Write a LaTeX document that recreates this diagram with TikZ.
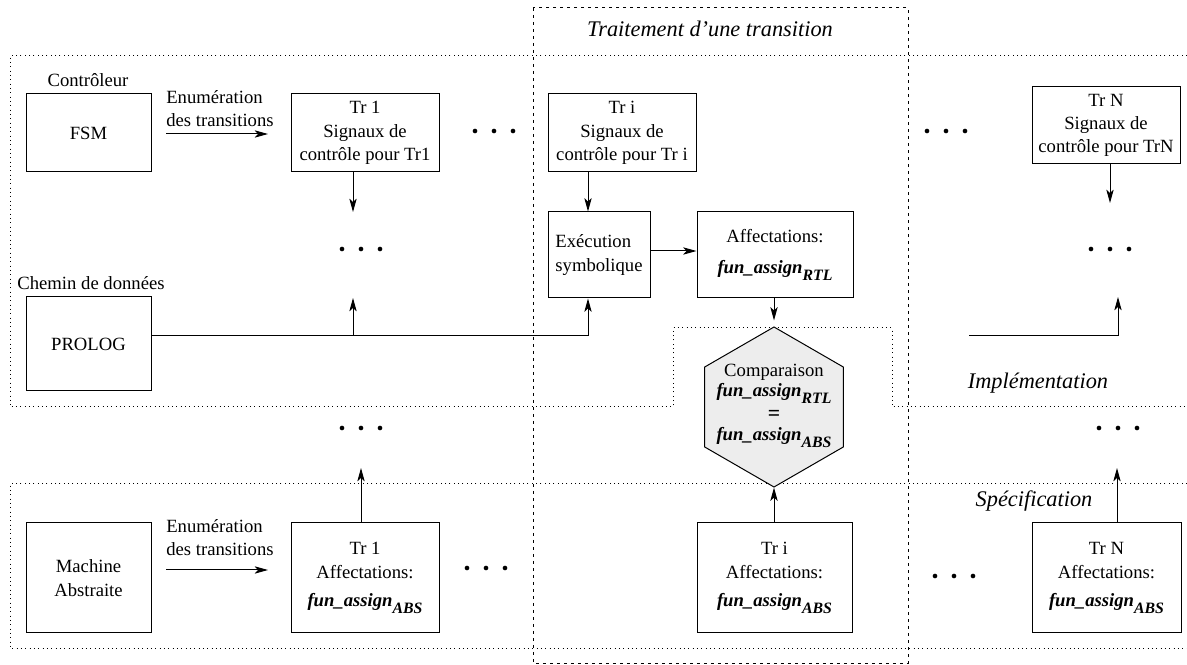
\documentclass[tikz,border=0pt]{standalone}
\usepackage{fontspec}
\setmainfont{Liberation Serif}
\usetikzlibrary{positioning,shapes.geometric,arrows.meta}

\newcommand{\fassign}[1]{\textbf{\textit{fun\_assign}}\raisebox{-4.2pt}{\fontsize{9.5}{10}\selectfont\textbf{\textit{#1}}}}

\begin{document}
\begin{tikzpicture}[x=0.6pt, y=-0.6pt, font=\fontsize{11.2}{14}\selectfont,
    >={Stealth[length=8pt,width=4.4pt,inset=2pt]},
    blk/.style={draw, line width=0.6pt, align=center, inner sep=1pt},
    zone/.style={dotted, line width=0.6pt},
    link/.style={line width=0.6pt},
    tag/.style={font=\fontsize{13.4}{16}\selectfont\itshape}]

    \useasboundingbox (0,0) rectangle (1187,665);

    % Zones: implementation, specification, one transition
    \draw[zone] (1187,56) -- (10,56) -- (10,407) -- (673,407) -- (673,328)
        -- (892,328) -- (892,407) -- (1187,407);
    \draw[zone] (1187,484) -- (10,484) -- (10,648) -- (1187,648);
    \draw[line width=0.6pt, dash pattern=on 2pt off 2.2pt] (533,8) rectangle (908,663);
    \node[tag] (ttr) at (710,29) {Traitement d'une transition};
    \node[tag, anchor=base] (impl) at (1038,389) {Implémentation};
    \node[tag, anchor=base] (spec) at (1034,507) {Spécification};

    % Controller and data path
    \node[anchor=base] (ctrl) at (88,87) {Contrôleur};
    \node[blk, minimum width=125*0.6pt, minimum height=78*0.6pt] (fsm) at (88.5,133) {FSM};
    \node[anchor=base] (chem) at (91,290) {Chemin de données};
    \node[blk, minimum width=125*0.6pt, minimum height=94*0.6pt] (prolog) at (88.5,344) {PROLOG};
    \node[blk, minimum width=125*0.6pt, minimum height=110*0.6pt] (mach) at (88.5,578) {Machine\\Abstraite};

    % Enumeration of the transitions
    \coordinate (e1a) at (166,134);
    \coordinate (e1b) at (268,134);
    \coordinate (e2a) at (166,570);
    \coordinate (e2b) at (268,570);
    \node[align=left, anchor=south west, inner sep=0pt] (enum1) at (166,127) {Enumération\\des transitions};
    \node[align=left, anchor=south west, inner sep=0pt] (enum2) at (166,556) {Enumération\\des transitions};
    \draw[link, ->] (e1a) -- (e1b);
    \draw[link, ->] (e2a) -- (e2b);

    % Transition boxes
    \node[blk, minimum width=148*0.6pt, minimum height=78*0.6pt] (tra) at (365,133) {Tr 1\\Signaux de\\contrôle pour Tr1};
    \node[blk, minimum width=148*0.6pt, minimum height=78*0.6pt] (tri) at (622,133) {Tr i\\Signaux de\\contrôle pour Tr i};
    \node[blk, minimum width=148*0.6pt, minimum height=77*0.6pt] (trn) at (1106,125.5) {Tr N\\Signaux de\\contrôle pour TrN};
    \node[blk, align=left, minimum width=102*0.6pt, minimum height=86*0.6pt] (exec) at (599,255) {Exécution\\symbolique};
    \node[blk, minimum width=156*0.6pt, minimum height=86*0.6pt] (affr) at (775,255) {Affectations:\\[5pt]\fassign{RTL}};
    \node[blk, minimum width=148*0.6pt, minimum height=110*0.6pt] (trb) at (365,578) {Tr 1\\Affectations:\\[3pt]\fassign{ABS}};
    \node[blk, minimum width=155*0.6pt, minimum height=110*0.6pt] (trib) at (774.5,578) {Tr i\\Affectations:\\[3pt]\fassign{ABS}};
    \node[blk, minimum width=149*0.6pt, minimum height=110*0.6pt] (trnb) at (1106.5,578) {Tr N\\Affectations:\\[3pt]\fassign{ABS}};

    % Comparison
    \node[draw, fill=gray!14, line width=0.6pt, regular polygon, regular polygon sides=6,
        regular polygon rotate=30, minimum size=160*0.6pt, inner sep=0pt] (hex) at (774,407) {};
    \node[align=center, font=\fontsize{11.2}{12}\selectfont] (cmp) at (774,406)
        {Comparaison\\\fassign{RTL}\\[2pt]{\fontsize{13}{12}\selectfont\textbf{=}}\\\fassign{ABS}};

    % Dots
    \foreach \x/\y in {361/249, 494/131, 361/428, 486/568, 946/131, 1110/249, 1118/428, 954/576}
        \foreach \d in {-19,0,19}
            \fill (\x+\d,\y) circle (1.4pt);

    % Connections
    \coordinate (dn1) at (353,212);
    \coordinate (up1) at (353,298);
    \coordinate (busA) at (353,336);
    \coordinate (busB) at (588,336);
    \coordinate (up2) at (361,468);
    \coordinate (dnN) at (1110,203);
    \coordinate (busN) at (969,336);
    \coordinate (upN) at (1118,297);
    \coordinate (up3) at (1117,468);

    \draw[link, ->] (tra.south -| dn1) -- (dn1);
    \draw[link] (prolog.east |- busA) -- (busB);
    \draw[link, ->] (busA) -- (up1);
    \draw[link, ->] (busB) -- (busB |- exec.south);
    \draw[link, ->] (tri.south -| busB) -- (busB |- exec.north);
    \draw[link, ->] (exec.east |- 0,251) -- (affr.west |- 0,251);
    \draw[link, ->, shorten >=3.6pt] (affr.south -| hex.north) -- (hex.north);
    \draw[link, ->] (trib.north -| hex.south) -- (hex.south);
    \draw[link, ->] (trb.north -| up2) -- (up2);
    \draw[link, ->] (trn.south -| dnN) -- (dnN);
    \draw[link, ->] (busN) -| (upN);
    \draw[link, ->] (trnb.north -| up3) -- (up3);
\end{tikzpicture}
\end{document}
